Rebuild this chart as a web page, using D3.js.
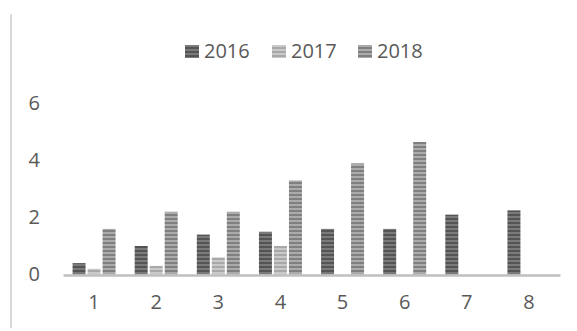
<!DOCTYPE html>
<html>
<head>
<meta charset="utf-8">
<script src="https://cdn.jsdelivr.net/npm/d3@7"></script>
<style>
  body { margin: 0; background: #fff; }
  text { font-family: "Open Sans", sans-serif; fill: #595959; }
</style>
</head>
<body>
<div class="areaGrafica"></div>
<script>
const categorias = ['1', '2', '3', '4', '5', '6', '7', '8'];
const series = ['2016', '2017', '2018'];
const valores2016 = [0.4, 1.0, 1.4, 1.5, 1.6, 1.6, 2.1, 2.25];
const valores2017 = [0.2, 0.3, 0.6, 1.0, 0, 0, 0, 0];
const valores2018 = [1.6, 2.2, 2.2, 3.3, 3.9, 4.65, 0, 0];
const ticksY = [0, 2, 4, 6];

function grafica(){
   const w = 577;
   const h = 331;
   const izq = 63, der = 560;
   const base = 274.5;

   let datos = categorias.map((c, i) => ({
      cat: c,
      vals: [valores2016[i], valores2017[i], valores2018[i]]
   }));

   // colores de las rayas: fondo y raya
   let colores = [
      ['#7a7a7a', '#545454'],
      ['#c9c9c9', '#a8a8a8'],
      ['#ababab', '#7f7f7f']
   ];

   let svg = d3.select('.areaGrafica')
               .append('svg')
               .attr('width', w)
               .attr('height', h);

   let defs = svg.append('defs');
   colores.forEach(function(c, i){
      let p = defs.append('pattern')
                  .attr('id', 'raya' + i)
                  .attr('patternUnits', 'userSpaceOnUse')
                  .attr('width', 8)
                  .attr('height', 4);
      p.append('rect').attr('width', 8).attr('height', 4).attr('fill', c[0]);
      p.append('rect').attr('y', 2).attr('width', 8).attr('height', 2).attr('fill', c[1]);
   });

   // linea de borde a la izquierda
   svg.append('line')
      .attr('x1', 11).attr('x2', 11)
      .attr('y1', 14).attr('y2', 328)
      .attr('stroke', '#d9d9d9')
      .attr('stroke-width', 2);

   let x0 = d3.scaleBand()
              .domain(categorias)
              .range([izq, der])
              .padding(0);

   let anchoGrupo = 43;
   let x1 = d3.scaleBand()
              .domain(series)
              .range([0, anchoGrupo])
              .paddingInner(2 / 15)
              .paddingOuter(0);

   let yScale = d3.scaleLinear()
                  .domain([0, 6])
                  .range([base, base - 6 * 28.5]);

   let grupos = svg.selectAll('.grupo')
                   .data(datos)
                   .enter()
                   .append('g')
                   .attr('transform', (d) => 'translate(' + (x0(d.cat) + (x0.bandwidth() - anchoGrupo) / 2) + ',0)');

   grupos.selectAll('rect')
         .data((d) => d.vals.map((v, i) => ({ serie: series[i], v: v, i: i })))
         .enter()
         .append('rect')
         .attr('x', (d) => x1(d.serie))
         .attr('width', x1.bandwidth())
         .attr('y', (d) => yScale(d.v))
         .attr('height', (d) => yScale(0) - yScale(d.v))
         .attr('fill', (d) => 'url(#raya' + d.i + ')');

   // eje X
   let xAxis = d3.axisBottom(x0).tickSize(0).tickPadding(20);
   let ejeX = svg.append('g')
                 .attr('transform', 'translate(0,' + (base + 0.5) + ')')
                 .call(xAxis);
   ejeX.select('.domain').attr('stroke', '#bfbfbf').attr('stroke-width', 2.5);
   ejeX.selectAll('text').style('font-size', '20px').attr('fill', '#595959');

   // eje Y (solo etiquetas)
   let yAxis = d3.axisLeft(yScale).tickValues(ticksY).tickFormat(d3.format('d')).tickSize(0).tickPadding(0);
   let ejeY = svg.append('g')
                 .attr('transform', 'translate(40,0)')
                 .call(yAxis);
   ejeY.select('.domain').remove();
   ejeY.selectAll('text').style('font-size', '20px').attr('fill', '#595959');

   // leyenda
   let posLeyenda = [185, 272, 358];
   let leyenda = svg.selectAll('.leyenda')
                    .data(series)
                    .enter()
                    .append('g')
                    .attr('transform', (d, i) => 'translate(' + posLeyenda[i] + ',45)');
   leyenda.append('rect')
          .attr('width', 14)
          .attr('height', 13)
          .attr('fill', (d, i) => 'url(#raya' + i + ')');
   leyenda.append('text')
          .attr('x', 19)
          .attr('y', 13)
          .style('font-size', '20px')
          .text((d) => d);
}

grafica();
</script>
</body>
</html>
